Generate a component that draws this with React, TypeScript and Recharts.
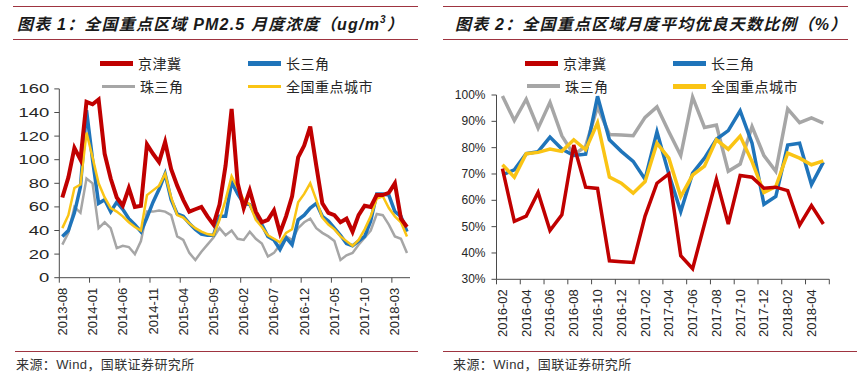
import React from 'react';
import { LineChart, Line, XAxis, YAxis } from 'recharts';

// ---------- Chart 1: PM2.5 monthly concentration (ug/m3) ----------
const pmMonths = [
  '2013-08', '2013-09', '2013-10', '2013-11', '2013-12',
  '2014-01', '2014-02', '2014-03', '2014-04', '2014-05', '2014-06', '2014-07', '2014-08', '2014-09', '2014-10', '2014-11', '2014-12',
  '2015-01', '2015-02', '2015-03', '2015-04', '2015-05', '2015-06', '2015-07', '2015-08', '2015-09', '2015-10', '2015-11', '2015-12',
  '2016-01', '2016-02', '2016-03', '2016-04', '2016-05', '2016-06', '2016-07', '2016-08', '2016-09', '2016-10', '2016-11', '2016-12',
  '2017-01', '2017-02', '2017-03', '2017-04', '2017-05', '2017-06', '2017-07', '2017-08', '2017-09', '2017-10', '2017-11', '2017-12',
  '2018-01', '2018-02', '2018-03', '2018-04', '2018-05',
];
const pmJJJ = [
  68, 85, 110, 100, 149, 147, 151, 105, 84, 68,
  61, 76, 60, 61, 113, 105, 98, 115, 92, 78,
  66, 56, 58, 60, 52, 45, 62, 95, 143, 80,
  59, 74, 56, 47, 49, 57, 38, 52, 69, 102,
  112, 128, 95, 63, 55, 53, 47, 50, 39, 53,
  61, 60, 70, 70, 72, 80, 50, 43,
];
const pmCSJ = [
  35, 40, 55, 77, 142, 100, 63, 66, 56, 64,
  58, 50, 45, 39, 51, 64, 75, 88, 66, 54,
  52, 46, 41, 37, 36, 36, 52, 52, 81, 71,
  63, 62, 52, 45, 35, 32, 24, 34, 28, 49,
  53, 59, 63, 52, 48, 42, 36, 29, 27, 31,
  35, 48, 71, 71, 70, 56, 52, 39,
];
const pmZSJ = [
  28, 38, 60, 55, 84, 80, 42, 47, 42, 25,
  27, 26, 20, 31, 56, 56, 57, 56, 53, 35,
  32, 21, 15, 22, 28, 34, 42, 36, 40, 33,
  32, 39, 33, 29, 18, 21, 28, 35, 32, 42,
  47, 50, 42, 38, 35, 31, 15, 19, 21, 28,
  34, 40, 54, 53, 45, 35, 33, 21,
];
const pmNational = [
  42, 53, 76, 79, 123, 102, 80, 68, 59, 56,
  52, 47, 43, 40, 70, 74, 78, 88, 68, 53,
  51, 46, 42, 39, 37, 36, 49, 66, 86, 76,
  66, 62, 49, 43, 36, 33, 30, 38, 41, 64,
  71, 80, 66, 51, 45, 41, 35, 31, 27, 32,
  41, 52, 67, 69, 59, 52, 47, 35,
];
const pmYTicks = [0, 20, 40, 60, 80, 100, 120, 140, 160];

// ---------- Chart 2: share of good air-quality days (%) ----------
const goodMonths = [
  '2016-02', '2016-03', '2016-04', '2016-05', '2016-06', '2016-07', '2016-08', '2016-09', '2016-10', '2016-11', '2016-12',
  '2017-01', '2017-02', '2017-03', '2017-04', '2017-05', '2017-06', '2017-07', '2017-08', '2017-09', '2017-10', '2017-11', '2017-12',
  '2018-01', '2018-02', '2018-03', '2018-04', '2018-05',
];
const goodJJJ = [72, 52, 54, 63, 48.5, 54.5, 81, 65, 64.5, 37, 36.7, 36.4, 54, 66.5, 70, 39, 34, 51, 68, 51, 69.4, 68.8, 64.6, 65, 63.7, 50.6, 58, 51];
const goodCSJ = [69.7, 71.6, 77.7, 78.5, 84, 79.5, 77, 77.5, 99.5, 83, 78.6, 74.8, 68, 86, 70, 55.7, 70.3, 76, 83.2, 86.5, 94, 81.7, 58.5, 61.5, 81, 81.7, 66, 74.5];
const goodZSJ = [99.6, 90.3, 98.4, 87.4, 97.2, 84.5, 77.3, 80.5, 95.5, 85, 84.8, 84.5, 91.5, 95.5, 86, 77, 99.2, 87.7, 88.6, 71, 73.8, 88, 77, 71, 94.7, 89.5, 91.3, 89.3];
const goodNational = [73.5, 68.8, 77.7, 78.2, 79.5, 78.6, 83, 79.2, 89.4, 68.8, 66.5, 62.7, 67.1, 81.7, 76, 61.4, 69.6, 73, 83, 79.4, 84.4, 74.7, 62.9, 65.2, 77.9, 76, 73.5, 75];
const goodYTicks = [30, 40, 50, 60, 70, 80, 90, 100];

const seriesNames = ['京津冀', '长三角', '珠三角', '全国重点城市'];

// ---------- styles ----------
const C_RED = '#C00000';
const C_BLUE = '#1F74BA';
const C_GRAY = '#A6A6A6';
const C_YELLOW = '#FAC414';
const RULE = '#9E3440';
const AXIS = '#4A4A4A';
const TXT = '#262626';
const LATIN = "'Liberation Sans', Arial, sans-serif";
const MIXED = "'Liberation Sans', 'Noto Sans CJK SC', sans-serif";
const CJK = "'Noto Sans CJK SC', sans-serif";

const pmData = pmMonths.map((m, i) => ({ month: m, jjj: pmJJJ[i], csj: pmCSJ[i], zsj: pmZSJ[i], nat: pmNational[i] }));
const goodData = goodMonths.map((m, i) => ({ month: m, jjj: goodJJJ[i], csj: goodCSJ[i], zsj: goodZSJ[i], nat: goodNational[i] }));

// layout of the two charts
const L = { w: 430, h: 376, top: 88.9, bottom: 38.3, left: 9.3, right: 20, yw: 50, xh: 60 };
const R = { w: 430, h: 376, top: 95, bottom: 36.7, left: 10.5, right: 30.7, yw: 56, xh: 60 };
const bwL = (L.w - L.left - L.right - L.yw) / pmMonths.length;
const bwR = (R.w - R.left - R.right - R.yw) / goodMonths.length;

function makeXTick(labels: string[], every: number, bw: number, endTick: boolean) {
  return (props: any) => {
    const { x, y, payload } = props;
    const idx = labels.indexOf(payload.value);
    const out: any[] = [];
    if (idx % every === 0) {
      const tx = x - bw / 2;
      out.push(<line key="t" x1={tx} y1={y - 5} x2={tx} y2={y} stroke={AXIS} strokeWidth={1} />);
      out.push(
        <text key="l" transform={`translate(${x},${y + 5}) rotate(-90)`} textAnchor="end" dominantBaseline="central"
          fontSize={13} fontFamily={LATIN} fill={TXT}>{payload.value}</text>
      );
    }
    if (endTick && idx === labels.length - 1) {
      const ex = x + bw / 2;
      out.push(<line key="e" x1={ex} y1={y - 5} x2={ex} y2={y} stroke={AXIS} strokeWidth={1} />);
    }
    return <g>{out}</g>;
  };
}

const LeftYTick = (props: any) => (
  <text transform={`translate(${props.x},${props.y}) scale(1.42,1)`} textAnchor="end" dominantBaseline="central"
    fontSize={13} fontFamily={LATIN} fill={TXT}>{props.payload.value}</text>
);
const RightYTick = (props: any) => (
  <text x={props.x} y={props.y} textAnchor="end" dominantBaseline="central"
    fontSize={12} fontFamily={LATIN} fill={TXT}>{props.payload.value}%</text>
);

function LegendBlock({ left, colors, widths }: { left: number; colors: string[]; widths: number[] }) {
  const pos = [
    { x: 0, y: 63 }, { x: 148, y: 63 }, { x: 2, y: 86 }, { x: 148, y: 86 },
  ];
  return (
    <>
      {seriesNames.map((n, i) => (
        <div key={n} style={{ position: 'absolute', left: left + pos[i].x, top: pos[i].y - 10, height: 20, display: 'flex', alignItems: 'center' }}>
          <div style={{ width: 33, height: widths[i], background: colors[i] }} />
          <span style={{ marginLeft: 5, fontFamily: CJK, fontSize: 14, letterSpacing: 0.5, color: TXT, whiteSpace: 'nowrap' }}>{n}</span>
        </div>
      ))}
    </>
  );
}

const Rule = ({ x1, x2, y }: { x1: number; x2: number; y: number }) => (
  <div style={{ position: 'absolute', left: x1, top: y, width: x2 - x1, height: 1, background: RULE }} />
);

const titleStyle: React.CSSProperties = {
  position: 'absolute', top: 13, fontFamily: MIXED, fontSize: 16, fontWeight: 'bold', fontStyle: 'italic',
  letterSpacing: 1.2, color: '#1a1a1a', whiteSpace: 'nowrap', lineHeight: '24px',
};
const srcStyle: React.CSSProperties = {
  position: 'absolute', top: 356, fontFamily: MIXED, fontSize: 13, letterSpacing: 0.4, color: '#333', whiteSpace: 'nowrap', lineHeight: '17px',
};

export default function App() {
  return (
    <div style={{ position: 'absolute', left: 0, top: 0, width: 860, height: 376, background: '#fff', overflow: 'hidden' }}>
      {/* Left chart */}
      <Rule x1={13} x2={418} y={6} />
      <div style={{ ...titleStyle, left: 17 }}>
        图表 1：全国重点区域 PM2.5 月度浓度（ug/m<sup style={{ fontSize: 10, verticalAlign: 'top', lineHeight: '14px' }}>3</sup>）
      </div>
      <Rule x1={13} x2={418} y={39} />
      <div style={{ position: 'absolute', left: 0, top: 0 }}>
        <LineChart width={L.w} height={L.h} data={pmData} margin={{ top: L.top, right: L.right, bottom: L.bottom, left: L.left }}>
          <XAxis dataKey="month" height={L.xh} interval={0} tickLine={false} tickSize={5} tickMargin={0}
            axisLine={{ stroke: AXIS }} padding={{ left: bwL / 2, right: bwL / 2 }}
            tick={makeXTick(pmMonths, 5, bwL, false)} />
          <YAxis width={L.yw} domain={[0, 160]} ticks={pmYTicks} interval={0} tickSize={5} tickMargin={5}
            tickLine={{ stroke: AXIS }} axisLine={{ stroke: AXIS }} tick={LeftYTick} />
          <Line type="linear" dataKey="zsj" stroke={C_GRAY} strokeWidth={2.5} dot={false} isAnimationActive={false} />
          <Line type="linear" dataKey="csj" stroke={C_BLUE} strokeWidth={3.5} dot={false} isAnimationActive={false} />
          <Line type="linear" dataKey="nat" stroke={C_YELLOW} strokeWidth={2.5} dot={false} isAnimationActive={false} />
          <Line type="linear" dataKey="jjj" stroke={C_RED} strokeWidth={4} dot={false} isAnimationActive={false} />
        </LineChart>
      </div>
      <LegendBlock left={100} colors={[C_RED, C_BLUE, C_GRAY, C_YELLOW]} widths={[5, 5, 3, 3]} />
      <Rule x1={15} x2={418} y={351} />
      <div style={{ ...srcStyle, left: 16 }}>来源：Wind，国联证券研究所</div>

      {/* Right chart */}
      <Rule x1={443} x2={848} y={6} />
      <div style={{ ...titleStyle, left: 455 }}>图表 2：全国重点区域月度平均优良天数比例（%）</div>
      <Rule x1={443} x2={848} y={39} />
      <div style={{ position: 'absolute', left: 430, top: 0 }}>
        <LineChart width={R.w} height={R.h} data={goodData} margin={{ top: R.top, right: R.right, bottom: R.bottom, left: R.left }}>
          <XAxis dataKey="month" height={R.xh} interval={0} tickLine={false} tickSize={5} tickMargin={0}
            axisLine={{ stroke: AXIS }} padding={{ left: bwR / 2, right: bwR / 2 }}
            tick={makeXTick(goodMonths, 2, bwR, true)} />
          <YAxis width={R.yw} domain={[30, 100]} ticks={goodYTicks} interval={0} tickSize={5} tickMargin={6}
            tickLine={{ stroke: AXIS }} axisLine={{ stroke: AXIS }} tick={RightYTick} />
          <Line type="linear" dataKey="zsj" stroke={C_GRAY} strokeWidth={3.5} dot={false} isAnimationActive={false} />
          <Line type="linear" dataKey="csj" stroke={C_BLUE} strokeWidth={3.5} dot={false} isAnimationActive={false} />
          <Line type="linear" dataKey="nat" stroke={C_YELLOW} strokeWidth={3.5} dot={false} isAnimationActive={false} />
          <Line type="linear" dataKey="jjj" stroke={C_RED} strokeWidth={3.5} dot={false} isAnimationActive={false} />
        </LineChart>
      </div>
      <LegendBlock left={525} colors={[C_RED, C_BLUE, C_GRAY, C_YELLOW]} widths={[5, 5, 4, 5]} />
      <Rule x1={443} x2={857} y={351} />
      <div style={{ ...srcStyle, left: 453 }}>来源：Wind，国联证券研究所</div>
    </div>
  );
}
